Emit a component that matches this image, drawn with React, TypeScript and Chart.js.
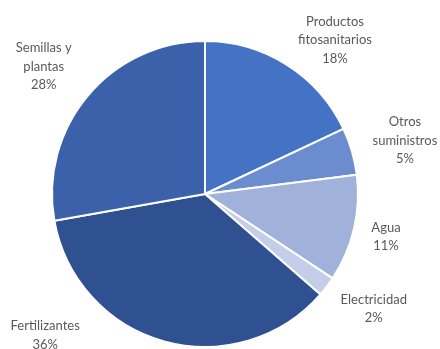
import React, { useEffect, useRef } from "react";
import { Chart, registerables } from "chart.js";

Chart.register(...registerables);

const categories = ["Productos fitosanitarios", "Otros suministros", "Agua", "Electricidad", "Fertilizantes", "Semillas y plantas"];
const labelLines = [["Productos", "fitosanitarios"], ["Otros", "suministros"], ["Agua"], ["Electricidad"], ["Fertilizantes"], ["Semillas y", "plantas"]];
const values = [18.0, 5.0, 11.3, 2.1, 35.8, 27.8];
const colors = ["#4472C4", "#6B8DCF", "#A0B1DA", "#C4CEE8", "#2F5191", "#3A61AA"];
// label offsets from the arc's outer edge at the slice mid-angle
const labelOffsets = [[48, -25], [53, -11], [32, 8], [47, 22], [-119, -6], [-44, -29]];

const labelPlugin = {
  id: "outsideLabels",
  afterDraw(chart: any) {
    const ctx = chart.ctx;
    const meta = chart.getDatasetMeta(0);
    const total = values.reduce((a, b) => a + b, 0);
    ctx.save();
    ctx.font = "13px Lato";
    ctx.fillStyle = "#595959";
    ctx.textAlign = "center";
    ctx.textBaseline = "middle";
    const lh = 18.5;
    meta.data.forEach((arc: any, i: number) => {
      const mid = (arc.startAngle + arc.endAngle) / 2;
      const ex = arc.x + arc.outerRadius * Math.cos(mid);
      const ey = arc.y + arc.outerRadius * Math.sin(mid);
      const cx = ex + labelOffsets[i][0];
      const cy = ey + labelOffsets[i][1];
      const lines = [...labelLines[i], Math.round((values[i] / total) * 100) + "%"];
      const top = cy - ((lines.length - 1) * lh) / 2;
      lines.forEach((t, k) => ctx.fillText(t, cx, top + k * lh));
    });
    ctx.restore();
  },
};

export default function App() {
  const ref = useRef<HTMLCanvasElement>(null);
  useEffect(() => {
    const chart = new Chart(ref.current!, {
      type: "pie",
      data: {
        labels: categories,
        datasets: [{ data: values, backgroundColor: colors, borderColor: "#ffffff", borderWidth: 2 }],
      },
      options: {
        animation: false,
        responsive: false,
        layout: { padding: { left: 51, right: 81, top: 40, bottom: 1 } },
        plugins: { legend: { display: false }, tooltip: { enabled: false } },
      },
      plugins: [labelPlugin],
    });
    return () => chart.destroy();
  }, []);
  return (
    <div style={{ position: "fixed", left: 0, top: 0, width: 440, height: 349, background: "#fff" }}>
      <canvas ref={ref} width={440} height={349} style={{ width: 440, height: 349 }} />
    </div>
  );
}
